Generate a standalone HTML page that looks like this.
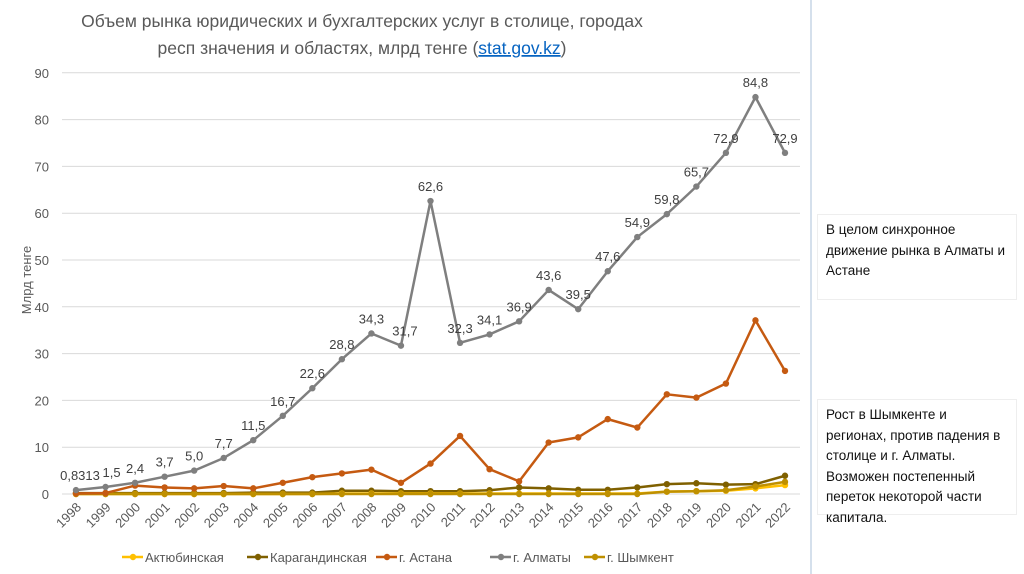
<!DOCTYPE html>
<html><head><meta charset="utf-8"><style>
body{margin:0;background:#fff;width:1024px;height:574px;overflow:hidden;font-family:"Liberation Sans","DejaVu Sans",sans-serif;}
.box{position:absolute;left:817px;width:200px;box-sizing:border-box;border:1px solid #eee;padding:5px 8px;font-size:13.5px;line-height:20.5px;color:#111;font-family:"Liberation Sans",sans-serif;}
</style></head><body>
<svg width="1024" height="574" style="position:absolute;left:0;top:0">
<text x="362" y="27" text-anchor="middle" font-size="17.5" fill="#595959">Объем рынка юридических и бухгалтерских услуг в столице, городах</text>
<text x="362" y="54" text-anchor="middle" font-size="17.5" fill="#595959">респ значения и областях, млрд тенге (<tspan fill="#0563c1" text-decoration="underline">stat.gov.kz</tspan>)</text>
<text transform="translate(31,280) rotate(-90)" text-anchor="middle" font-size="13" fill="#595959">Млрд тенге</text>
<line x1="811" y1="0" x2="811" y2="574" stroke="#d5e0ec" stroke-width="2"/>
<g id="grid"></g><g id="series"></g><g id="labels"></g>
<g id="legend" font-size="13" fill="#595959"></g>
</svg>
<div class="box" style="top:214px;height:86px">В целом синхронное движение рынка в Алматы и Астане</div>
<div class="box" style="top:399px;height:116px">Рост в Шымкенте и регионах, против падения в столице и г. Алматы. Возможен постепенный переток некоторой части капитала.</div>
<script>
const years=[1998,1999,2000,2001,2002,2003,2004,2005,2006,2007,2008,2009,2010,2011,2012,2013,2014,2015,2016,2017,2018,2019,2020,2021,2022];
const yTicks=[0,10,20,30,40,50,60,70,80,90];
const almaty=[0.8313,1.5,2.4,3.7,5.0,7.7,11.5,16.7,22.6,28.8,34.3,31.7,62.6,32.3,34.1,36.9,43.6,39.5,47.6,54.9,59.8,65.7,72.9,84.8,72.9];
const almatyLabels=["0,8313","1,5","2,4","3,7","5,0","7,7","11,5","16,7","22,6","28,8","34,3","31,7","62,6","32,3","34,1","36,9","43,6","39,5","47,6","54,9","59,8","65,7","72,9","84,8","72,9"];
const astana=[0.1,0.2,1.8,1.4,1.2,1.7,1.2,2.4,3.6,4.4,5.2,2.4,6.5,12.4,5.3,2.7,11.0,12.1,16.0,14.2,21.3,20.6,23.6,37.1,26.3];
const karaganda=[0.2,0.2,0.2,0.2,0.2,0.2,0.3,0.3,0.3,0.7,0.7,0.6,0.6,0.6,0.8,1.4,1.2,0.9,0.9,1.4,2.1,2.3,2.0,2.1,3.9];
const aktobe=[0,0,0,0,0,0,0,0,0,0.1,0.1,0.1,0.1,0.1,0.1,0.1,0.1,0.1,0.1,0.1,0.5,0.6,0.7,1.2,1.9];
const shymkent=[0,0,0,0,0,0,0,0,0,0,0,0,0,0,0,0,0,0,0,0,0.5,0.6,0.8,1.6,2.6];
const NS="http://www.w3.org/2000/svg";
const X=i=>76+i*(709/24), Y=v=>494-v*4.68;
function mk(t,a,p){const e=document.createElementNS(NS,t);for(const k in a)e.setAttribute(k,a[k]);p.appendChild(e);return e;}
const grid=document.getElementById('grid');
yTicks.forEach(t=>{
 const l=mk('line',{x1:62,x2:800,y1:Y(t),y2:Y(t),stroke:'#d9d9d9'},grid);
 
 
 const tx=mk('text',{x:49,y:Y(t)+5,'text-anchor':'end','font-size':13,fill:'#595959'},grid);tx.textContent=t;
 
 
});
years.forEach((y,i)=>{
 const tx=mk('text',{transform:`translate(${X(i)+6},${508}) rotate(-45)`,'text-anchor':'end','font-size':13,fill:'#595959'},grid);tx.textContent=y;
 
 
});
const ser=document.getElementById('series');
const defs=[["aktobe",aktobe,"#ffc000","Актюбинская",145],["karaganda",karaganda,"#7f6000","Карагандинская",270],["astana",astana,"#c55a11","г. Астана",399],["almaty",almaty,"#7f7f7f","г. Алматы",513],["shymkent",shymkent,"#bf9000","г. Шымкент",607]];
const order=[1,0,4,2,3];
order.forEach(k=>{const [n,d,c]=defs[k];
 const g=mk('g',{},ser);
 
 
 mk('polyline',{points:d.map((v,i)=>X(i)+','+Y(v)).join(' '),fill:'none',stroke:c,'stroke-width':2.5,'stroke-linejoin':'round'},g);
 d.forEach((v,i)=>{const p=mk('circle',{cx:X(i),cy:Y(v),r:3.2,fill:c},g);
  
  });
});
const lab=document.getElementById('labels');
almaty.forEach((v,i)=>{
 let dx=0;if(i==0)dx=4;if(i==1)dx=6;if(i==11)dx=4;
 const t=mk('text',{x:X(i)+dx,y:Y(v)-10,'text-anchor':'middle','font-size':13,fill:'#404040'},lab);t.textContent=almatyLabels[i];
 
 
});
const leg=document.getElementById('legend');
defs.forEach(([n,d,c,name,x])=>{
 const g=mk('g',{},leg);
 
 
 mk('line',{x1:x-23,x2:x-2,y1:557,y2:557,stroke:c,'stroke-width':2.5},g);
 mk('circle',{cx:x-12,cy:557,r:3.2,fill:c},g);
 const t=mk('text',{x:x,y:562},g);t.textContent=name;
});
</script>
</body></html>
